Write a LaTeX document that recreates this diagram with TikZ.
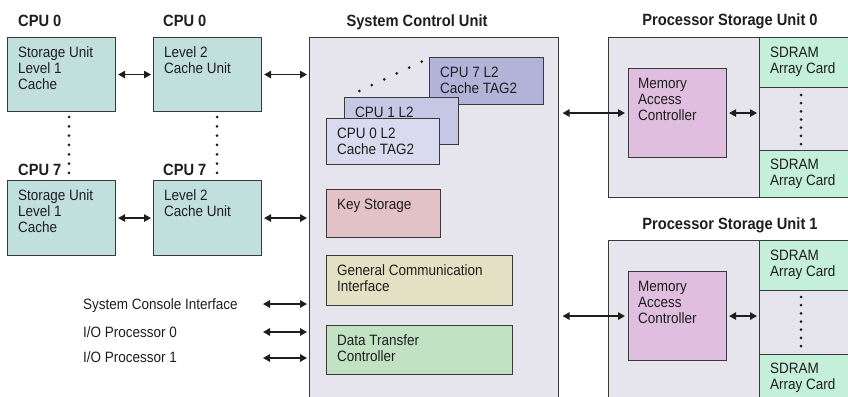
\documentclass[tikz,border=0pt]{standalone}
\usepackage{fontspec}
\setmainfont{Liberation Sans}[FakeStretch=0.9]
\usetikzlibrary{arrows.meta}

\definecolor{ink}{HTML}{1E1E1E}
\definecolor{edge}{HTML}{3A3A3A}
\definecolor{cpubox}{HTML}{C1DFDD}
\definecolor{unitbg}{HTML}{E6E5EE}
\definecolor{tagA}{HTML}{D9D9EF}
\definecolor{tagB}{HTML}{C6C6E5}
\definecolor{tagC}{HTML}{B3B3DA}
\definecolor{keybox}{HTML}{E3C2C7}
\definecolor{gcibox}{HTML}{E3E1C3}
\definecolor{dtcbox}{HTML}{C2E2C4}
\definecolor{macbox}{HTML}{E0BEDF}
\definecolor{dram}{HTML}{C4EFD9}

\begin{document}
\begin{tikzpicture}[x=1pt, y=-1pt,
  box/.style={draw=edge, line width=1.1pt, inner sep=0pt, anchor=north west},
  txt/.style={anchor=north west, inner sep=0pt, align=left, text=ink,
    font=\fontsize{15}{16}\selectfont},
  ttl/.style={inner sep=0pt, text=ink, font=\fontsize{16.3}{18}\selectfont\bfseries},
  lbl/.style={anchor=base west, inner sep=0pt, text=ink, font=\fontsize{15}{16}\selectfont},
  biarrow/.style={{Triangle[length=7pt,width=7.5pt]}-{Triangle[length=7pt,width=7.5pt]},
    line width=1.3pt, draw=ink, shorten <=2pt, shorten >=2pt},
  dotmark/.style={fill=ink}]

\useasboundingbox (0,0) rectangle (848,396);
\clip (0,0) rectangle (848,396);

% ---------- CPU side ----------
\node[ttl, anchor=base west] (c0a) at (18,26.5) {CPU 0};
\node[ttl, anchor=base west] (c0b) at (163,26.5) {CPU 0};
\node[ttl, anchor=base west] (c7a) at (18,175) {CPU 7};
\node[ttl, anchor=base west] (c7b) at (163,175) {CPU 7};

\node[box, fill=cpubox, minimum width=108pt, minimum height=74pt] (su0) at (7,37) {};
\node[box, fill=cpubox, minimum width=108pt, minimum height=74pt] (l20) at (153,37) {};
\node[box, fill=cpubox, minimum width=108pt, minimum height=75pt] (su7) at (7,180) {};
\node[box, fill=cpubox, minimum width=108pt, minimum height=75pt] (l27) at (153,180) {};

\node[txt] (su0t) at ([shift={(11,9.5)}]su0.north west) {Storage Unit\\Level 1\\Cache};
\node[txt] (l20t) at ([shift={(11,9.5)}]l20.north west) {Level 2\\Cache Unit};
\node[txt] (su7t) at ([shift={(11,9.5)}]su7.north west) {Storage Unit\\Level 1\\Cache};
\node[txt] (l27t) at ([shift={(11,9.5)}]l27.north west) {Level 2\\Cache Unit};

% vertical ellipsis between CPU 0 and CPU 7
\foreach \i in {0,...,6} {
  \fill[dotmark] (69,117+9.33*\i) circle[radius=1.5];
  \fill[dotmark] (217,117+9.33*\i) circle[radius=1.5];
}

% console and I/O labels
\node[lbl] (sci) at (83,309) {System Console Interface};
\node[lbl] (iop0) at (83,337.5) {I/O Processor 0};
\node[lbl] (iop1) at (83,362.5) {I/O Processor 1};
\coordinate (sciend) at (261,304);
\coordinate (iop0end) at (261,332);
\coordinate (iop1end) at (261,358);

% ---------- System Control Unit ----------
\node[ttl, anchor=base] (scut) at (417,26.5) {System Control Unit};
\node[box, fill=unitbg, minimum width=249pt, minimum height=380pt] (scu) at (309,37) {};

% stacked L2 cache tag directories
\node[box, fill=tagC, minimum width=114pt, minimum height=47pt] (tag7) at (429,57) {};
\node[txt] (tag7t) at ([shift={(11,9.5)}]tag7.north west) {CPU 7 L2\\Cache TAG2};
\node[box, fill=tagB, minimum width=114pt, minimum height=47pt] (tag1) at (344,97) {};
\node[txt] (tag1t) at ([shift={(11,9.5)}]tag1.north west) {CPU 1 L2};
\node[box, fill=tagA, minimum width=113pt, minimum height=46pt] (tag0) at (326,118) {};
\node[txt] (tag0t) at ([shift={(11,9.5)}]tag0.north west) {CPU 0 L2\\Cache TAG2};
\foreach \i in {0,...,5}
  \fill[dotmark] (359.3+12.48*\i,91-5.86*\i) circle[radius=1.5];

\node[box, fill=keybox, minimum width=114pt, minimum height=48pt] (key) at (326,189) {};
\node[txt] (keyt) at ([shift={(11,9.5)}]key.north west) {Key Storage};
\node[box, fill=gcibox, minimum width=186pt, minimum height=50pt] (gci) at (326,255) {};
\node[txt] (gcit) at ([shift={(11,9.5)}]gci.north west) {General Communication\\Interface};
\node[box, fill=dtcbox, minimum width=186pt, minimum height=49pt] (dtc) at (326,325) {};
\node[txt] (dtct) at ([shift={(11,9.5)}]dtc.north west) {Data Transfer\\Controller};

% ---------- Processor Storage Unit 0 ----------
\node[ttl, anchor=base] (psu0t) at (730,25.5) {Processor Storage Unit 0};
\node[box, fill=unitbg, minimum width=260pt, minimum height=160pt] (psu0) at (608,37) {};
\node[box, minimum width=100pt, minimum height=160pt] (col0) at (759,37) {};
\node[box, fill=dram, minimum width=100pt, minimum height=50pt] (d0a) at (759,37) {};
\node[txt] (d0at) at ([shift={(11,9.5)}]d0a.north west) {SDRAM\\Array Card};
\node[box, fill=dram, minimum width=100pt, minimum height=47pt] (d0b) at (759,150) {};
\node[txt] (d0bt) at ([shift={(11,8.5)}]d0b.north west) {SDRAM\\Array Card};
\foreach \i in {0,...,6}
  \fill[dotmark] (801,95+8.17*\i) circle[radius=1.5];
\node[box, fill=macbox, minimum width=98pt, minimum height=89pt] (mac0) at (628,68) {};
\node[txt] (mac0t) at ([shift={(10,9.5)}]mac0.north west) {Memory\\Access\\Controller};

% ---------- Processor Storage Unit 1 ----------
\node[ttl, anchor=base] (psu1t) at (730,229) {Processor Storage Unit 1};
\node[box, fill=unitbg, minimum width=260pt, minimum height=180pt] (psu1) at (608,240) {};
\node[box, minimum width=100pt, minimum height=180pt] (col1) at (759,240) {};
\node[box, fill=dram, minimum width=100pt, minimum height=50pt] (d1a) at (759,240) {};
\node[txt] (d1at) at ([shift={(11,9.5)}]d1a.north west) {SDRAM\\Array Card};
\node[box, fill=dram, minimum width=100pt, minimum height=70pt] (d1b) at (759,354) {};
\node[txt] (d1bt) at ([shift={(11,8.5)}]d1b.north west) {SDRAM\\Array Card};
\foreach \i in {0,...,6}
  \fill[dotmark] (801,297+8.17*\i) circle[radius=1.5];
\node[box, fill=macbox, minimum width=98pt, minimum height=89pt] (mac1) at (628,271) {};
\node[txt] (mac1t) at ([shift={(10,9.5)}]mac1.north west) {Memory\\Access\\Controller};

% ---------- connectors ----------
\draw[biarrow] (su0.east) -- (l20.west);
\draw[biarrow] (l20.east) -- (l20.east -| scu.west);
\draw[biarrow] (su7.east) -- (l27.west);
\draw[biarrow] (l27.east) -- (l27.east -| scu.west);
\draw[biarrow] (sciend) -- (sciend -| scu.west);
\draw[biarrow] (iop0end) -- (iop0end -| scu.west);
\draw[biarrow] (iop1end) -- (iop1end -| scu.west);
\draw[biarrow, shorten <=3.5pt, shorten >=3pt] (mac0.west -| scu.east) -- (mac0.west);
\draw[biarrow, shorten <=3.5pt, shorten >=3pt] (mac1.west -| scu.east) -- (mac1.west);
\draw[biarrow] (mac0.east) -- (mac0.east -| col0.west);
\draw[biarrow] (mac1.east) -- (mac1.east -| col1.west);

\end{tikzpicture}
\end{document}
